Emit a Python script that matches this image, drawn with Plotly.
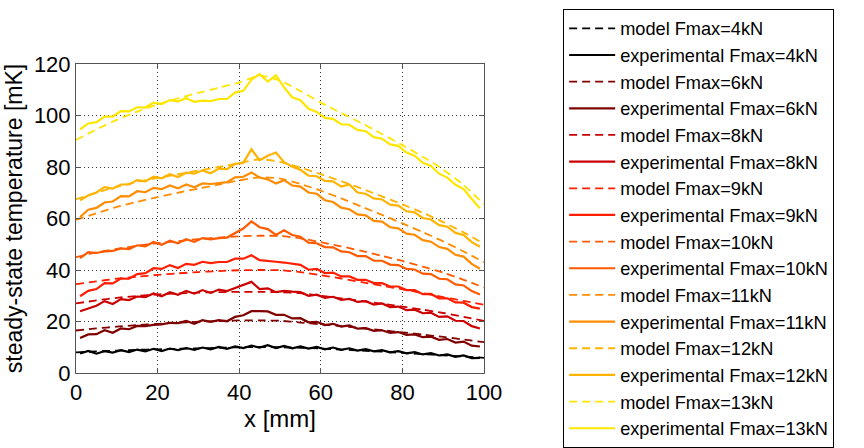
import plotly.graph_objects as go

FORCES = ["4kN", "6kN", "8kN", "9kN", "10kN", "11kN", "12kN", "13kN"]
COLORS = ["#000000", "#800000", "#cc0000", "#ff1e00", "#ff5a00", "#ff8c00", "#ffb400", "#ffe600"]

# model (smooth) curves, x = 0..100 step 5
MODEL_X = [0, 5, 10, 15, 20, 25, 30, 35, 40, 45, 50, 55, 60, 65, 70, 75, 80, 85, 90, 95, 100]
MODEL_4 = [8.0, 8.4, 8.7, 9.0, 9.2, 9.4, 9.6, 9.8, 10.0, 10.1, 10.0, 9.8, 9.5, 9.1, 8.7, 8.3, 7.8, 7.3, 6.9, 6.4, 5.9]
MODEL_6 = [16.5, 17.3, 18.0, 18.6, 19.1, 19.5, 19.9, 20.2, 20.4, 20.4, 20.3, 19.6, 18.9, 18.2, 17.4, 16.6, 15.8, 14.9, 14.0, 13.0, 12.0]
MODEL_8 = [27.0, 28.2, 29.2, 29.9, 30.5, 30.9, 31.2, 31.4, 31.5, 31.5, 31.4, 31.0, 30.0, 29.0, 28.0, 26.9, 25.8, 24.6, 23.3, 21.8, 20.2]
MODEL_9 = [34.5, 35.6, 36.6, 37.4, 38.1, 38.7, 39.2, 39.6, 39.9, 40.0, 39.9, 39.2, 38.0, 36.7, 35.3, 33.9, 32.5, 31.0, 29.5, 28.0, 26.5]
MODEL_10 = [45.0, 46.8, 48.2, 49.4, 50.4, 51.2, 52.0, 52.6, 53.1, 53.3, 53.2, 52.3, 50.8, 49.2, 47.4, 45.5, 43.5, 41.3, 39.0, 36.2, 33.2]
MODEL_11 = [59.5, 62.0, 64.5, 66.5, 68.3, 70.0, 71.6, 73.2, 74.8, 76.0, 75.5, 73.4, 70.8, 67.8, 64.6, 61.4, 58.1, 54.7, 51.1, 47.2, 43.0]
MODEL_12 = [67.5, 70.0, 72.3, 74.2, 75.8, 77.2, 78.6, 80.0, 81.5, 83.0, 82.0, 79.8, 77.2, 74.5, 71.6, 68.6, 65.5, 62.2, 58.6, 54.6, 50.2]
MODEL_13 = [90.5, 94.6, 98.3, 101.5, 104.3, 106.7, 108.8, 110.8, 112.8, 115.5, 113.5, 109.5, 105.0, 101.0, 97.0, 92.8, 88.5, 84.0, 79.0, 73.0, 65.5]

# experimental (noisy) curves, x = 1..99 step 2
EXP_X = list(range(1, 100, 2))
EXP_4 = [7.6, 8.6, 7.5, 8.5, 7.9, 8.9, 8.1, 9.1, 8.4, 9.4, 8.5, 9.5, 8.9, 9.7, 9.0, 9.9, 9.2, 10.1, 9.4, 10.3,
         9.7, 10.6, 9.9, 10.8, 9.7, 10.5, 9.6, 10.3, 9.5, 10.1, 9.2, 9.9, 9.0, 9.6, 8.7, 9.3, 8.4, 8.9, 8.0, 8.5,
         7.6, 8.1, 7.2, 7.7, 6.8, 7.2, 6.3, 6.8, 5.8, 5.9]
EXP_6 = [13.6, 15.0, 15.1, 16.6, 15.6, 17.3, 17.0, 18.3, 18.2, 18.7, 18.9, 19.5, 19.4, 20.2, 19.1, 20.5, 19.9, 20.5, 20.1, 21.8,
         22.4, 24.0, 24.0, 23.9, 22.6, 22.6, 21.2, 21.3, 19.7, 19.9, 18.6, 19.1, 18.0, 18.5, 17.2, 17.4, 16.4, 16.6, 15.6, 15.9,
         14.8, 15.0, 13.9, 14.1, 12.9, 13.2, 11.8, 12.2, 10.6, 10.3]
EXP_8 = [24.0, 25.2, 26.1, 27.9, 26.8, 28.7, 28.3, 29.7, 29.5, 30.9, 29.8, 31.4, 30.4, 31.9, 30.8, 32.2, 31.1, 32.4, 31.8, 33.0,
         34.1, 35.4, 32.6, 32.9, 31.4, 31.9, 31.6, 31.4, 30.0, 30.4, 29.2, 29.6, 28.4, 28.8, 27.6, 27.9, 26.6, 27.0, 25.6, 25.8,
         24.4, 24.6, 23.2, 23.4, 21.8, 22.0, 20.3, 20.2, 18.2, 17.3]
EXP_9 = [29.8, 31.9, 32.6, 34.9, 34.8, 36.7, 36.6, 38.4, 38.8, 40.7, 40.4, 41.9, 40.8, 42.4, 42.0, 43.2, 42.7, 43.1, 43.1, 44.4,
         44.4, 45.7, 43.8, 43.4, 43.2, 42.9, 42.4, 42.0, 40.1, 40.4, 38.8, 39.0, 37.5, 37.5, 36.2, 36.2, 34.9, 34.9, 33.6, 33.6,
         32.2, 32.2, 30.6, 30.7, 29.0, 29.0, 27.4, 27.3, 25.6, 25.0]
EXP_10 = [44.6, 46.9, 46.6, 47.2, 47.4, 48.4, 48.1, 49.6, 49.2, 50.9, 49.8, 51.4, 50.4, 52.0, 50.9, 52.4, 51.9, 52.4, 52.6, 54.2,
          56.1, 58.9, 56.6, 55.9, 53.6, 55.4, 53.6, 52.9, 50.6, 50.4, 48.9, 48.8, 47.2, 46.9, 45.4, 45.4, 43.6, 43.6, 42.1, 41.9,
          40.4, 40.2, 38.6, 38.4, 36.6, 36.4, 34.4, 34.0, 31.8, 30.5]
EXP_11 = [60.6, 63.4, 64.1, 66.2, 66.6, 68.7, 68.6, 70.6, 70.2, 71.9, 71.4, 72.8, 71.7, 73.2, 72.1, 73.6, 73.4, 73.7, 74.1, 76.0,
          76.2, 77.9, 75.9, 75.2, 73.6, 74.9, 72.8, 72.4, 70.1, 69.6, 67.1, 66.4, 64.2, 63.6, 61.6, 61.2, 59.1, 58.8, 56.6, 56.2,
          54.1, 53.7, 51.6, 51.0, 48.9, 48.2, 45.9, 45.2, 42.4, 40.5]
EXP_12 = [67.1, 68.9, 70.1, 72.2, 71.6, 73.2, 73.2, 74.9, 74.4, 76.2, 75.6, 77.2, 76.1, 77.8, 77.4, 78.7, 77.6, 79.4, 79.2, 81.2,
          81.6, 86.9, 82.6, 84.4, 85.6, 81.9, 80.1, 78.9, 76.6, 76.4, 74.6, 74.4, 72.4, 73.2, 70.1, 69.6, 67.8, 67.4, 65.4, 65.0,
          62.8, 62.4, 60.2, 59.6, 57.4, 56.8, 54.4, 53.6, 50.8, 49.0]
EXP_13 = [94.6, 96.9, 97.4, 99.6, 99.6, 101.7, 101.6, 103.2, 103.1, 105.0, 104.4, 106.0, 105.5, 106.7, 105.3, 105.8, 105.6, 106.4, 106.4, 108.9,
          109.6, 113.9, 116.1, 113.2, 115.6, 110.9, 107.1, 105.9, 102.6, 101.4, 99.1, 98.7, 96.6, 96.4, 94.4, 93.9, 91.6, 91.0, 88.8, 88.2,
          85.6, 84.4, 81.6, 80.4, 77.4, 75.9, 73.1, 71.4, 67.6, 64.0]

MODELS = [MODEL_4, MODEL_6, MODEL_8, MODEL_9, MODEL_10, MODEL_11, MODEL_12, MODEL_13]
EXPS = [EXP_4, EXP_6, EXP_8, EXP_9, EXP_10, EXP_11, EXP_12, EXP_13]

X_TICKS = [0, 20, 40, 60, 80, 100]
Y_TICKS = [0, 20, 40, 60, 80, 100, 120]

FONT = "Liberation Sans, Arial, sans-serif"

fig = go.Figure()
for f, c, m, e in zip(FORCES, COLORS, MODELS, EXPS):
    fig.add_trace(go.Scatter(x=MODEL_X, y=m, mode="lines", name=f"model Fmax={f}",
                             line=dict(color=c, width=1.8, dash="8px,5px", shape="spline", smoothing=0.6)))
    fig.add_trace(go.Scatter(x=EXP_X, y=e, mode="lines", name=f"experimental Fmax={f}",
                             line=dict(color=c, width=2.2)))

axis_common = dict(showline=True, linecolor="#555555", linewidth=1, mirror="ticks",
                   ticks="inside", ticklen=5, tickcolor="#555555",
                   showgrid=True, gridcolor="#333333", gridwidth=1, griddash="1px,3px",
                   zeroline=False, tickfont=dict(size=22, color="black", family=FONT))

fig.update_layout(
    width=864, height=448,
    margin=dict(l=76, r=380, t=56, b=75),
    paper_bgcolor="white", plot_bgcolor="white",
    font=dict(family=FONT, color="black", size=18),
    showlegend=True,
    legend=dict(x=1.194, y=1.17, xanchor="left", yanchor="top",
                bgcolor="white", bordercolor="black", borderwidth=1,
                font=dict(size=18.2, family=FONT), itemwidth=46, traceorder="normal",
                tracegroupgap=0, maxheight=446),
    xaxis=dict(range=[0, 100], tickvals=X_TICKS, title=dict(text="x [mm]", font=dict(size=24), standoff=2), **axis_common),
    yaxis=dict(range=[0, 120], tickvals=Y_TICKS, title=dict(text="steady-state temperature [mK]", font=dict(size=23), standoff=4), **axis_common),
)

fig.write_html("out.html")
